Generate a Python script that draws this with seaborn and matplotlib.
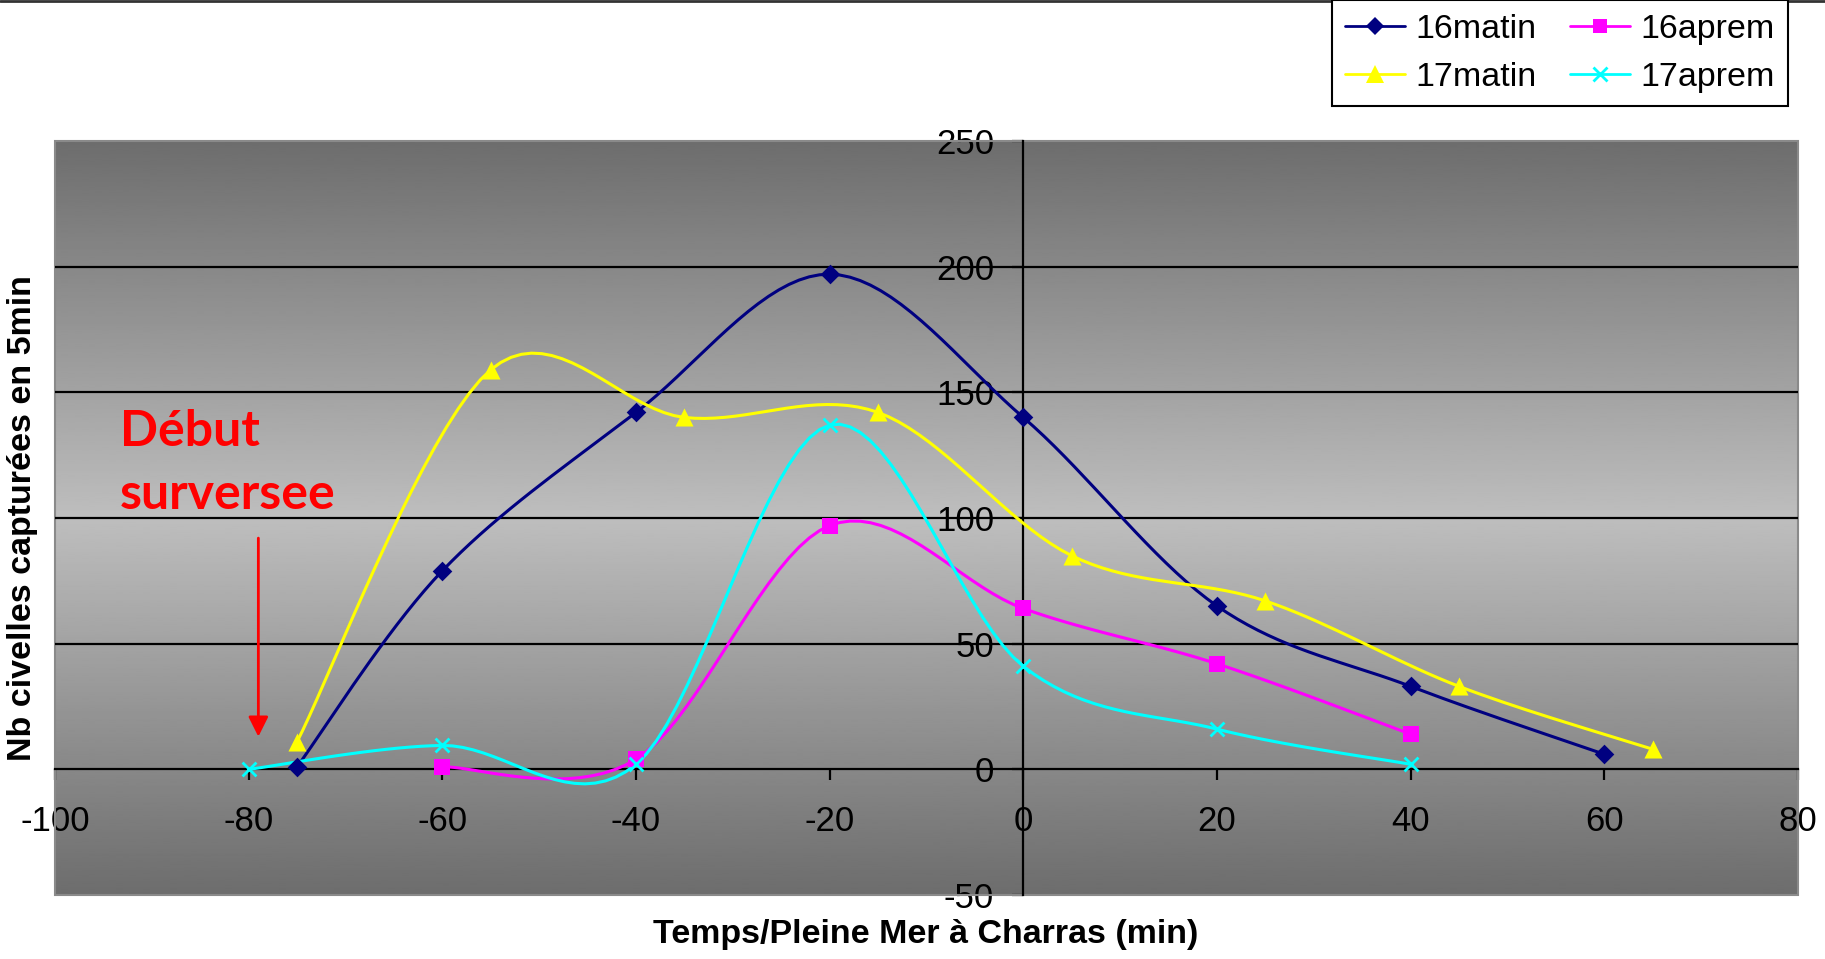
import numpy as np
import pandas as pd
import matplotlib
matplotlib.use("Agg")
import matplotlib.pyplot as plt
from matplotlib.lines import Line2D
from matplotlib.patches import Rectangle
import seaborn as sns

# ---------------- data ----------------
t_16matin = [-75, -60, -40, -20, 0, 20, 40, 60]
v_16matin = [1, 79, 142, 197, 140, 65, 33, 6]

t_16aprem = [-60, -40, -20, 0, 20, 40]
v_16aprem = [1, 4, 97, 64, 42, 14]

t_17matin = [-75, -55, -35, -15, 5, 25, 45, 65]
v_17matin = [11, 159, 140, 142, 85, 67, 33, 8]

t_17aprem = [-80, -60, -40, -20, 0, 20, 40]
v_17aprem = [0, 9.5, 2, 137, 41, 16, 2]

series_names = ["16matin", "16aprem", "17matin", "17aprem"]
x_ticks = list(range(-100, 81, 20))
y_ticks = list(range(-50, 251, 50))

# ---------------- style ----------------
sns.set_style("white")
plt.rcParams["font.family"] = ["Liberation Sans", "DejaVu Sans"]
plt.rcParams["axes.unicode_minus"] = False
plt.rcParams["text.color"] = "black"
plt.rcParams["axes.labelcolor"] = "black"
plt.rcParams["xtick.color"] = "black"
plt.rcParams["ytick.color"] = "black"

W, H = 1825, 959
fig = plt.figure(figsize=(W / 100, H / 100), dpi=100)
L, R, T, B = 55, 1798, 141, 895
ax = fig.add_axes([L / W, 1 - B / H, (R - L) / W, (B - T) / H])

# gradient background
s = np.linspace(0, 1, 400)
v = 1 - np.abs(2 * s - 1)
dark, light = 0x6d / 255, 0xbe / 255
grad = (dark + (light - dark) * v)[:, None]
ax.imshow(grad, cmap="gray", vmin=0, vmax=1, extent=(0, 1, 0, 1),
          transform=ax.transAxes, aspect="auto", zorder=0, interpolation="bilinear")
ax.add_patch(Rectangle((0, 0), 1, 1, transform=ax.transAxes, fill=False,
                       edgecolor="#8a8a8a", lw=1.5, zorder=1, clip_on=False))


def smooth_curve(xs, ys, n=20):
    """Excel-like smoothed line through the data points (cubic Bezier)."""
    P = np.column_stack([xs, ys]).astype(float)
    out = [P[0]]
    for i in range(len(P) - 1):
        p0 = P[i - 1] if i > 0 else P[i]
        p1, p2 = P[i], P[i + 1]
        p3 = P[i + 2] if i + 2 < len(P) else P[i + 1]
        c1 = p1 + (p2 - p0) / 6
        c2 = p2 - (p3 - p1) / 6
        t = np.linspace(0, 1, n)[1:][:, None]
        b = (1 - t) ** 3 * p1 + 3 * (1 - t) ** 2 * t * c1 + 3 * (1 - t) * t ** 2 * c2 + t ** 3 * p2
        out.extend(b)
    out = np.array(out)
    return out[:, 0], out[:, 1]


styles = {
    "16matin": dict(x=t_16matin, y=v_16matin, color="#000080", marker="D", ms=10),
    "16aprem": dict(x=t_16aprem, y=v_16aprem, color="#FF00FF", marker="s", ms=11),
    "17matin": dict(x=t_17matin, y=v_17matin, color="#FFFF00", marker="^", ms=13),
    "17aprem": dict(x=t_17aprem, y=v_17aprem, color="#00FFFF", marker="x", ms=10),
}

for name in series_names:
    st = styles[name]
    cx, cy = smooth_curve(st["x"], st["y"])
    df_c = pd.DataFrame({"x": cx, "y": cy})
    sns.lineplot(data=df_c, x="x", y="y", ax=ax, color=st["color"], lw=2.2,
                 sort=False, estimator=None, zorder=4, legend=False)
    df_p = pd.DataFrame({"x": st["x"], "y": st["y"]})
    if st["marker"] == "x":
        sns.scatterplot(data=df_p, x="x", y="y", ax=ax, color=st["color"], marker="x",
                        s=st["ms"] ** 2, linewidth=2, zorder=5, legend=False)
    else:
        sns.scatterplot(data=df_p, x="x", y="y", ax=ax, color=st["color"], marker=st["marker"],
                        s=st["ms"] ** 2, linewidth=0, zorder=5, legend=False)

# gridlines
for yv in y_ticks:
    if 0 < yv < 250:
        ax.axhline(yv, color="black", lw=1.6, zorder=2)

ax.set_xlim(-100, 80)
ax.set_ylim(-50, 250)
ax.set_xticks(x_ticks)
ax.set_yticks(y_ticks)
ax.set_xlabel("")
ax.set_ylabel("")

for sp in ["top", "right"]:
    ax.spines[sp].set_visible(False)
ax.spines["left"].set_position(("data", 0))
ax.spines["bottom"].set_position(("data", 0))
for sp in ["left", "bottom"]:
    ax.spines[sp].set_color("black")
    ax.spines[sp].set_linewidth(1.6)
    ax.spines[sp].set_zorder(3)

ax.tick_params(axis="x", direction="out", length=8, width=1.6, pad=18,
               labelsize=25, colors="black", bottom=True)
ax.tick_params(axis="y", direction="out", length=8, width=1.6, pad=13,
               labelsize=25, colors="black", left=True)

# annotation
ax.text(-93.3, 128.7, "Début", color="red", fontsize=36, fontweight="bold",
        family=["Lato", "DejaVu Sans"], ha="left", va="baseline", zorder=6)
ax.text(-93.3, 103.7, "surversee", color="red", fontsize=36, fontweight="bold",
        family=["Lato", "DejaVu Sans"], ha="left", va="baseline", zorder=6)
ax.annotate("", xy=(-79, 13), xytext=(-79, 92),
            arrowprops=dict(arrowstyle="-|>,head_length=0.4,head_width=0.2",
                            color="red", lw=2, mutation_scale=30,
                            shrinkA=0, shrinkB=0), zorder=6)

# axis titles
fig.text(926 / W, 1 - 935 / H, "Temps/Pleine Mer à Charras (min)", ha="center", va="center",
         fontsize=24.5, fontweight="bold", color="black")
fig.text(23 / W, 1 - 518 / H, "Nb civelles capturées en 5min", ha="center", va="center",
         rotation=90, fontsize=24.5, fontweight="bold", color="black")

# legend
order = ["16matin", "17matin", "16aprem", "17aprem"]
handles = []
for name in order:
    st = styles[name]
    handles.append(Line2D([], [], color=st["color"], lw=2, marker=st["marker"],
                          ms=st["ms"] * 0.95, mew=2 if st["marker"] == "x" else 0))
leg = fig.legend(handles, order, ncol=2, loc="upper right",
                 bbox_to_anchor=(1788 / W, 1.0), bbox_transform=fig.transFigure,
                 fontsize=24.5, frameon=True, fancybox=False, framealpha=1,
                 edgecolor="black", handlelength=1.75, handletextpad=0.3,
                 columnspacing=1.0, labelspacing=0.5, borderpad=0.4,
                 borderaxespad=0)
leg.get_frame().set_linewidth(1.5)
for txt in leg.get_texts():
    txt.set_color("black")

# top border line of the figure
fig.add_artist(Line2D([0, 1], [1 - 1 / H, 1 - 1 / H], transform=fig.transFigure,
                      color="#333333", lw=2))

fig.savefig("out.png", dpi=100, facecolor="white")
